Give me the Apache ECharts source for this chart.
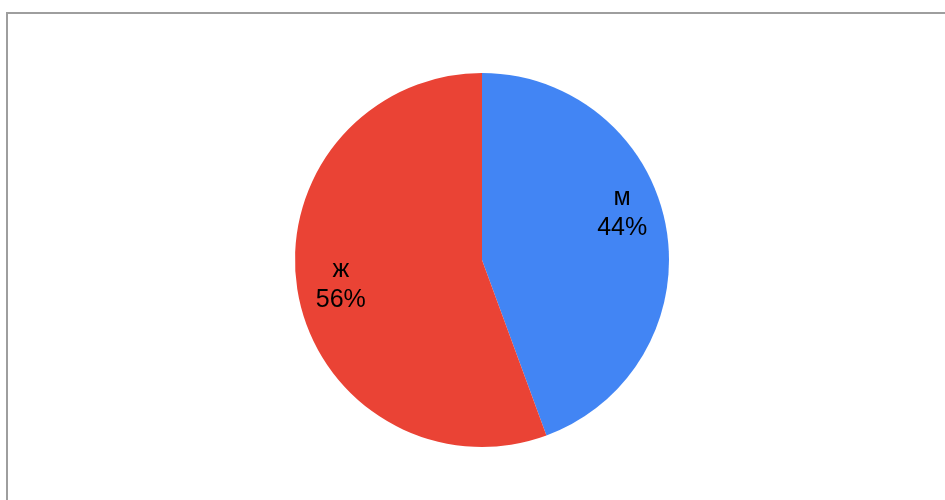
<!DOCTYPE html>
<html><head><meta charset="utf-8">
<script src="https://cdn.jsdelivr.net/npm/echarts@6/dist/echarts.min.js"></script>
<style>html,body{margin:0;padding:0;background:#fff}#c{width:945px;height:500px}</style>
</head><body><div id="c"></div>
<script>
const categories = ['м', 'ж'];
const values = [44.4, 55.6];
const colors = ['#4285F4', '#EA4335'];

const data = categories.map((n, i) => ({ name: n, value: values[i], itemStyle: { color: colors[i] } }));
const chart = echarts.init(document.getElementById('c'), null, { renderer: 'canvas' });
chart.setOption({
  animation: false,
  backgroundColor: '#fff',
  graphic: [{
    type: 'rect', shape: { x: 7, y: 13, width: 1000, height: 600 },
    style: { fill: 'none', stroke: '#9e9e9e', lineWidth: 2 }, silent: true, z: 0
  }],
  series: [{
    type: 'pie', center: [482, 260], radius: 187, startAngle: 90, clockwise: true,
    data: data, label: { show: false }, labelLine: { show: false }, silent: true,
    itemStyle: { borderWidth: 0 }
  }, {
    type: 'pie', center: [482, 260], radius: [108, 187], startAngle: 90, clockwise: true,
    data: data.map(d => ({ name: d.name, value: d.value, itemStyle: { color: 'rgba(0,0,0,0)' } })),
    silent: true,
    label: {
      show: true, position: 'inside',
      formatter: p => '{n|' + p.name + '}\n{p|' + Math.round(p.percent) + '%}',
      rich: {
        n: { fontFamily: 'Liberation Sans', fontSize: 25, color: '#000', lineHeight: 30, align: 'center' },
        p: { fontFamily: 'Liberation Sans', fontSize: 25, color: '#000', lineHeight: 30, align: 'center' }
      }
    },
    labelLayout: p => p.dataIndex === 0 ? { dx: -8, dy: -21 } : { dx: 7, dy: -1 },
    labelLine: { show: false }
  }]
});
</script></body></html>
